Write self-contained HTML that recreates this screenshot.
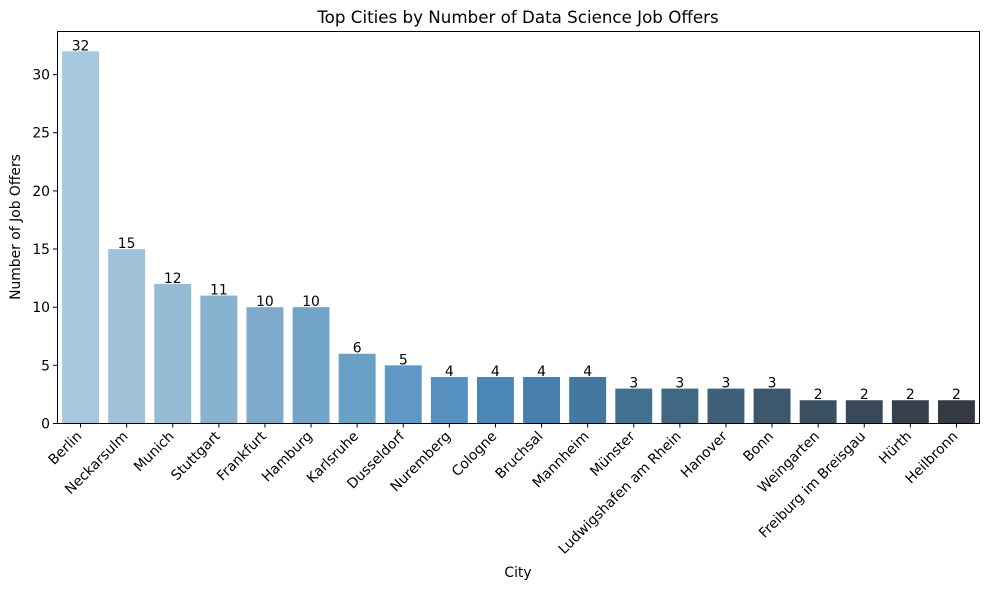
<!DOCTYPE html><html><head><style>body{margin:0;background:#fff}svg{font-family:"DejaVu Sans","Liberation Sans",sans-serif}</style></head><body>
<svg width="989" height="589" xmlns="http://www.w3.org/2000/svg">
<rect width="989" height="589" fill="#fff"/>
<text x="518" y="23" font-size="16.7" text-anchor="middle">Top Cities by Number of Data Science Job Offers</text>
<g id="bars"></g>
<rect x="57.5" y="31.5" width="922" height="392" fill="none" stroke="#000" stroke-width="1"/>
<g font-size="13.9" text-anchor="end">
<line x1="53" x2="57" y1="423.5" y2="423.5" stroke="#000"/><text x="50" y="428.5">0</text>
<line x1="53" x2="57" y1="365.3" y2="365.3" stroke="#000"/><text x="50" y="370.3">5</text>
<line x1="53" x2="57" y1="307.2" y2="307.2" stroke="#000"/><text x="50" y="312.2">10</text>
<line x1="53" x2="57" y1="249" y2="249" stroke="#000"/><text x="50" y="254">15</text>
<line x1="53" x2="57" y1="190.9" y2="190.9" stroke="#000"/><text x="50" y="195.9">20</text>
<line x1="53" x2="57" y1="132.7" y2="132.7" stroke="#000"/><text x="50" y="137.7">25</text>
<line x1="53" x2="57" y1="74.6" y2="74.6" stroke="#000"/><text x="50" y="79.6">30</text>
</g>
<text transform="translate(20,227) rotate(-90)" font-size="13.9" text-anchor="middle">Number of Job Offers</text>
<text x="518" y="577" font-size="13.9" text-anchor="middle">City</text>
<g id="ticks"></g>
</svg>
<script>
const d=[["Berlin",32],["Neckarsulm",15],["Munich",12],["Stuttgart",11],["Frankfurt",10],["Hamburg",10],["Karlsruhe",6],["Dusseldorf",5],["Nuremberg",4],["Cologne",4],["Bruchsal",4],["Mannheim",4],["Münster",3],["Ludwigshafen am Rhein",3],["Hanover",3],["Bonn",3],["Weingarten",2],["Freiburg im Breisgau",2],["Hürth",2],["Heilbronn",2]];
const c=["#a6c8df","#9fc2d8","#95bbd5","#89b1d0","#7eaacc","#72a5c7","#69a0c6","#5f98c4","#5590bf","#4a87b8","#467fac","#44789f","#43708f","#416883","#3f6078","#3d586c","#3b5061","#394957","#37414d","#353a40"];
const ns="http://www.w3.org/2000/svg",b=document.getElementById("bars"),t=document.getElementById("ticks");
const s=46.1,u=11.63,y0=423.5;
d.forEach((e,i)=>{const cx=57.5+s*(i+0.5),h=e[1]*u;
let r=document.createElementNS(ns,"rect");r.setAttribute("x",cx-18.45);r.setAttribute("width",36.9);r.setAttribute("y",y0-h);r.setAttribute("height",h);r.setAttribute("fill",c[i]);b.appendChild(r);
let v=document.createElementNS(ns,"text");v.setAttribute("x",cx);v.setAttribute("y",y0-h-1);v.setAttribute("font-size","13.9");v.setAttribute("text-anchor","middle");v.textContent=e[1];b.appendChild(v);
let l=document.createElementNS(ns,"line");l.setAttribute("x1",cx);l.setAttribute("x2",cx);l.setAttribute("y1",423.5);l.setAttribute("y2",427.5);l.setAttribute("stroke","#000");t.appendChild(l);
let x=document.createElementNS(ns,"text");x.setAttribute("transform",`translate(${cx+2},${437}) rotate(-45)`);x.setAttribute("font-size","13.9");x.setAttribute("text-anchor","end");x.textContent=e[0];t.appendChild(x);});
</script>
</body></html>
